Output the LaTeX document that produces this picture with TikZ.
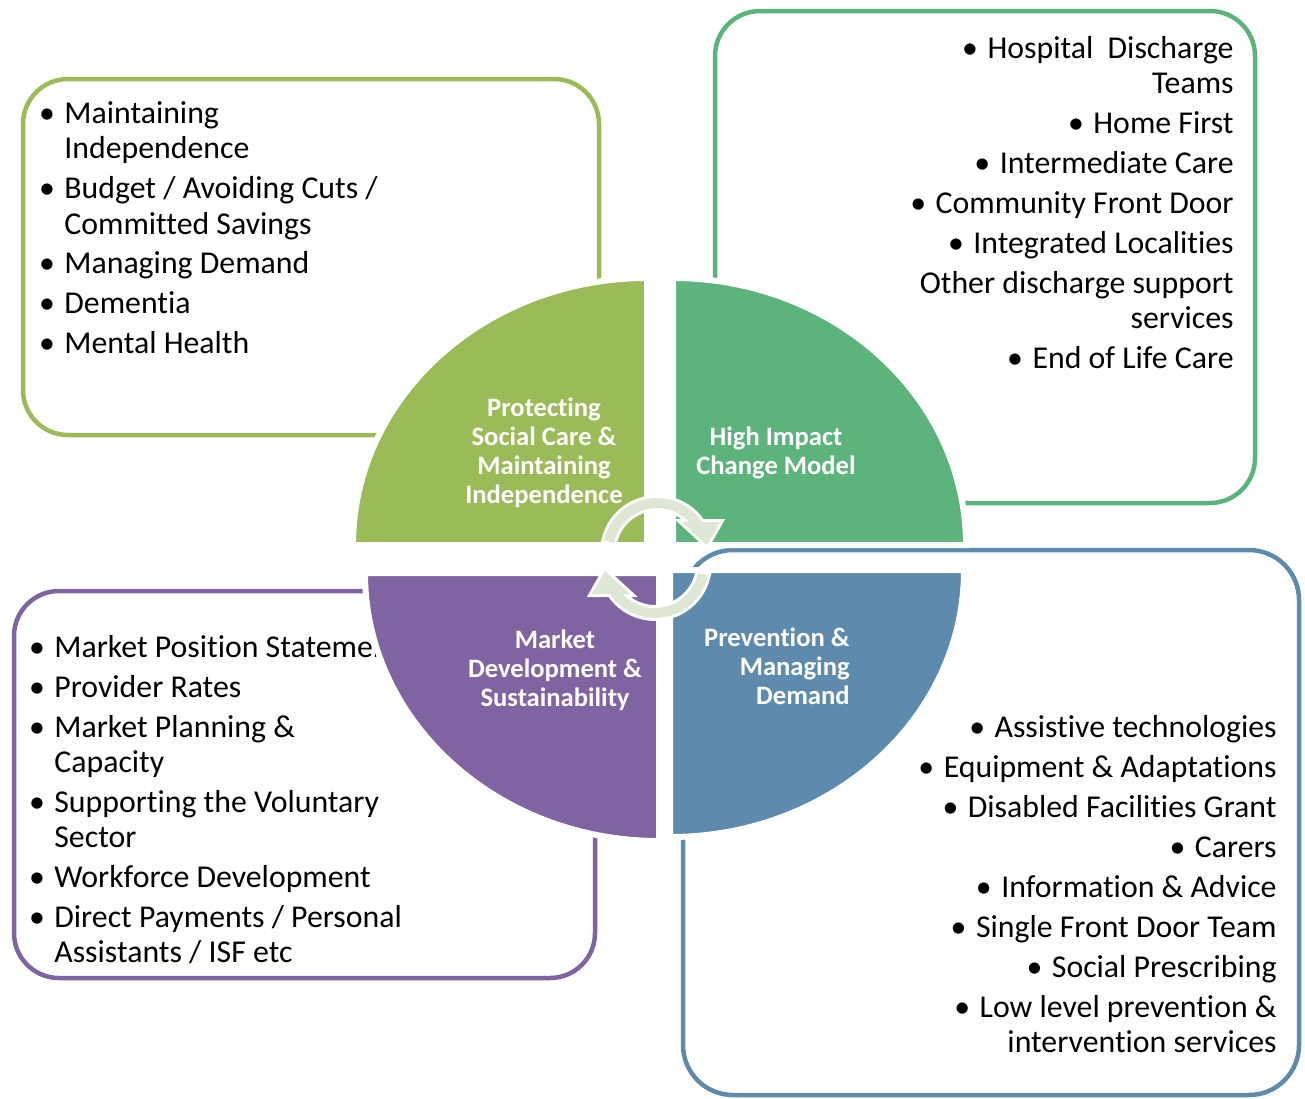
\documentclass[tikz,border=0pt]{standalone}
\usepackage{fontspec}
\setmainfont{Carlito}[Ligatures=NoCommon]
\definecolor{lgreen}{RGB}{155,187,89}
\definecolor{dgreen}{RGB}{92,179,124}
\definecolor{purp}{RGB}{128,100,162}
\definecolor{steel}{RGB}{94,139,173}
\definecolor{ringfill}{RGB}{221,231,211}
\begin{document}
\begin{tikzpicture}[x=0.5pt,y=-0.5pt,
  frame/.style={line width=2.25pt, rounded corners=22.5pt},
  wedge/.style={draw=white, line width=3pt},
  item/.style={inner sep=0pt, font=\fontsize{15.9}{17.5}\selectfont, anchor=base west},
  itemr/.style={inner sep=0pt, font=\fontsize{15.9}{17.5}\selectfont, anchor=base east},
  bul/.style={inner sep=0pt, font=\fontsize{15.9}{17.5}\selectfont, anchor=base},
  core/.style={text=white, font=\bfseries\fontsize{13.3}{14.5}\selectfont, inner sep=0pt, align=center},
  ring/.style={draw=white, line width=3pt, line join=miter, postaction={fill=ringfill}}]
\useasboundingbox (0,0) rectangle (1305,1098);

% outer frames
\draw[frame, lgreen] (23,79) rectangle (599,435);
\draw[frame, dgreen] (715,11) rectangle (1255,503);
\draw[frame, purp] (14,591) rectangle (595,978);
\draw[frame, steel, rounded corners=25pt] (683,550) rectangle (1299,1095);

% top-left list
\node[item] (a1) at (64,123) {Maintaining};
\node[item] (a2) at (64,158) {Independence};
\node[item] (a3) at (64,198) {Budget / Avoiding Cuts /};
\node[item] (a4) at (64,234) {Committed Savings};
\node[item] (a5) at (64,273) {Managing Demand};
\node[item] (a6) at (64,313) {Dementia};
\node[item] (a7) at (64,353) {Mental Health};
\foreach \n in {a1,a3,a5,a6,a7}
  \node[bul] (b\n) at ([xshift=-8.5pt]\n.base west) {•};

% top-right list
\node[itemr] (c1) at (1234,58) {Hospital~\ Discharge};
\node[itemr] (c2) at (1234,93) {Teams};
\node[itemr] (c3) at (1234,133) {Home First};
\node[itemr] (c4) at (1234,173) {Intermediate Care};
\node[itemr] (c5) at (1234,213) {Community Front Door};
\node[itemr] (c6) at (1234,253) {Integrated Localities};
\node[itemr] (c7) at (1234,293) {Other discharge support};
\node[itemr] (c8) at (1234,328) {services};
\node[itemr] (c9) at (1234,368) {End of Life Care};
\foreach \n in {c1,c3,c4,c5,c6,c9}
  \node[bul] (b\n) at ([xshift=-8.5pt]\n.base west) {•};

% bottom-left list
\node[item] (d1) at (54,657) {Market Position Statement};
\node[item] (d2) at (54,697) {Provider Rates};
\node[item] (d3) at (54,737) {Market Planning \&};
\node[item] (d4) at (54,772) {Capacity};
\node[item] (d5) at (54,812) {Supporting the Voluntary};
\node[item] (d6) at (54,847) {Sector};
\node[item] (d7) at (54,887) {Workforce Development};
\node[item] (d8) at (54,927) {Direct Payments / Personal};
\node[item] (d9) at (54,962) {Assistants / ISF etc};
\foreach \n in {d1,d2,d3,d5,d7,d8}
  \node[bul] (b\n) at ([xshift=-8.5pt]\n.base west) {•};

% bottom-right list
\node[itemr] (e1) at (1277,737) {Assistive technologies};
\node[itemr] (e2) at (1277,777) {Equipment \& Adaptations};
\node[itemr] (e3) at (1277,817) {Disabled Facilities Grant};
\node[itemr] (e4) at (1277,857) {Carers};
\node[itemr] (e5) at (1277,897) {Information \& Advice};
\node[itemr] (e6) at (1277,937) {Single Front Door Team};
\node[itemr] (e7) at (1277,977) {Social Prescribing};
\node[itemr] (e8) at (1277,1017) {Low level prevention \&};
\node[itemr] (e9) at (1277,1052) {intervention services};
\foreach \n in {e1,e2,e3,e4,e5,e6,e7,e8}
  \node[bul] (b\n) at ([xshift=-8.5pt]\n.base west) {•};

% four quadrants
\path[wedge, fill=lgreen] (647,545) -- (353,545)
  arc[start angle=180, end angle=270, x radius=294, y radius=267] -- cycle;
\path[wedge, fill=dgreen] (673,545) -- (673,278)
  arc[start angle=270, end angle=360, x radius=293, y radius=267] -- cycle;
\path[wedge, fill=purp] (659,573) -- (659,841)
  arc[start angle=90, end angle=180, x radius=294, y radius=268] -- cycle;
\path[wedge, fill=steel] (670,570) -- (964,570)
  arc[start angle=0, end angle=90, x radius=294, y radius=267] -- cycle;

\node[core] (q1) at (544,453) {Protecting\\Social Care \&\\Maintaining\\Independence};
\node[core] (q2) at (776,453) {High Impact\\Change Model};
\node[core] (q3) at (555,670) {Market\\Development \&\\Sustainability};
\node[core, align=right, anchor=east] (q4) at (850,666) {Prevention \&\\Managing\\Demand};

% circular arrows in the middle
\path[ring] (604.2,540.8) arc[start angle=192, end angle=326.25, radius=54]
  -- (720,522) -- (707,545) -- (682,522) -- (689.2,522)
  arc[start angle=317, end angle=192, radius=44] -- cycle;
\path[ring, rotate around={180:(656,558)}] (604.2,540.8) arc[start angle=192, end angle=326.25, radius=54]
  -- (720,522) -- (707,545) -- (682,522) -- (689.2,522)
  arc[start angle=317, end angle=192, radius=44] -- cycle;
\end{tikzpicture}
\end{document}
